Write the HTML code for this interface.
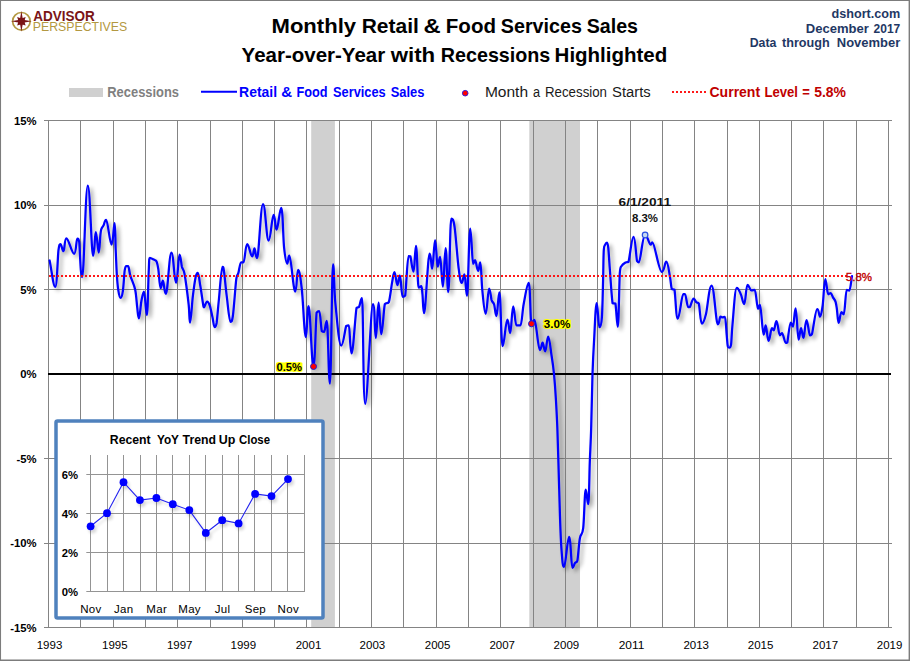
<!DOCTYPE html>
<html><head><meta charset="utf-8"><title>Monthly Retail &amp; Food Services Sales</title>
<style>
html,body{margin:0;padding:0;background:#fff;}
body{width:910px;height:661px;overflow:hidden;font-family:"Liberation Sans",sans-serif;}
svg{display:block;font-family:"Liberation Sans",sans-serif;}
</style></head><body>
<svg width="910" height="661" viewBox="0 0 910 661">
<defs>
<filter id="sh" x="-5%" y="-5%" width="110%" height="110%">
<feGaussianBlur in="SourceAlpha" stdDeviation="1.9" result="b"/>
<feOffset in="b" dx="2.6" dy="2.6" result="o"/>
<feComponentTransfer in="o" result="s"><feFuncA type="linear" slope="0.38"/></feComponentTransfer>
<feMerge><feMergeNode in="s"/><feMergeNode in="SourceGraphic"/></feMerge>
</filter>
<filter id="sh2" x="-5%" y="-10%" width="110%" height="130%">
<feGaussianBlur in="SourceAlpha" stdDeviation="1.5" result="b"/>
<feOffset in="b" dx="2" dy="2.5" result="o"/>
<feComponentTransfer in="o" result="s"><feFuncA type="linear" slope="0.16"/></feComponentTransfer>
<feMerge><feMergeNode in="s"/><feMergeNode in="SourceGraphic"/></feMerge>
</filter>
</defs>
<rect x="0" y="0" width="910" height="661" fill="#ffffff"/>

<rect x="311.2" y="120.5" width="23.7" height="507" fill="#d0d0d0"/>
<rect x="529.3" y="120.5" width="50.7" height="507" fill="#d0d0d0"/>
<path d="M48.5 120V628M80.5 120V628M113.5 120V628M145.5 120V628M177.5 120V628M210.5 120V628M242.5 120V628M274.5 120V628M306.5 120V628M339.5 120V628M371.5 120V628M403.5 120V628M436.5 120V628M468.5 120V628M500.5 120V628M533.5 120V628M565.5 120V628M597.5 120V628M630.5 120V628M662.5 120V628M694.5 120V628M727.5 120V628M759.5 120V628M791.5 120V628M823.5 120V628M856.5 120V628M888.5 120V628M44 120.5H892M44 205.5H892M44 289.5H892M44 458.5H892M44 543.5H892M44 627.5H892" stroke="#848484" stroke-width="1" fill="none"/>
<path d="M48 374H891" stroke="#000" stroke-width="2" fill="none"/>
<path d="M49.6 260.5C51.5 269.3 53.3 286.9 55.2 286.9C57.1 286.9 57.6 257.1 58.5 250.0C59.4 244.0 59.5 244.0 60.5 244.0C61.5 244.0 62.3 251.2 63.5 251.2C64.7 251.2 64.4 238.3 66.4 238.3C68.6 238.3 71.8 253.8 74.1 253.8C76.3 253.8 76.2 238.6 77.3 238.6C78.4 238.6 78.4 238.6 79.2 241.8C80.0 248.2 80.4 277.0 82.2 277.0C84.0 277.0 85.5 185.5 87.8 185.5C90.1 185.5 91.4 255.8 93.1 255.8C94.8 255.8 94.6 232.1 95.8 232.1C97.0 232.1 97.8 252.5 98.7 252.5C99.6 252.5 99.9 239.8 100.3 236.0C100.7 232.2 100.7 231.3 101.2 229.5C101.8 227.7 102.8 226.9 103.6 225.3C104.4 223.7 104.6 219.8 106.2 219.8C107.8 219.8 109.8 244.6 111.5 244.6C113.2 244.6 113.7 223.1 114.6 223.1C115.4 223.1 115.3 241.5 115.7 250.0C116.1 258.5 116.4 267.4 116.8 274.0C117.2 280.6 117.6 285.5 118.2 289.5C118.8 293.5 119.6 297.9 120.6 297.9C121.6 297.9 122.2 295.4 122.9 290.8C123.6 286.2 124.1 274.5 124.7 270.4C125.3 266.3 125.6 266.2 126.3 266.2C127.0 266.2 127.2 266.2 128.1 266.2C129.0 266.2 129.2 272.0 130.4 275.9C131.6 279.8 134.1 284.5 135.2 289.7C136.3 294.9 136.6 302.4 137.2 307.2C137.8 312.0 138.0 318.3 138.9 318.3C139.8 318.3 140.5 306.2 141.3 301.7C142.2 297.2 142.9 291.5 144.0 291.5C145.1 291.5 145.8 315.2 146.8 315.2C147.8 315.2 148.2 281.6 148.7 272.0C149.2 262.4 149.0 257.8 149.8 257.8C150.9 257.8 152.7 259.0 153.8 259.6C154.9 260.2 155.8 260.0 156.6 261.6C157.3 263.2 157.6 264.6 158.3 269.0C159.0 273.4 159.6 288.2 160.6 288.2C161.6 288.2 161.8 280.6 162.9 280.6C164.0 280.6 164.1 293.8 165.9 293.8C167.7 293.8 169.3 252.6 171.4 252.6C173.5 252.6 174.3 282.7 176.0 282.7C177.7 282.7 178.3 254.6 179.5 254.6C180.7 254.6 181.1 263.5 181.9 266.8C182.8 270.1 183.5 268.0 184.6 274.3C185.7 280.6 187.8 296.9 188.7 304.9C189.6 312.9 189.2 322.5 190.1 322.5C191.0 322.5 191.9 304.2 192.8 296.7C193.7 289.2 194.7 281.7 195.5 277.7C196.3 273.7 196.8 272.9 197.8 272.9C198.8 272.9 199.4 280.7 200.3 285.8C201.2 290.9 202.4 299.9 203.0 303.5C203.6 307.1 203.3 307.4 203.9 307.4C204.8 307.4 205.9 301.5 207.1 301.5C208.3 301.5 208.9 303.0 209.8 305.6C210.7 308.2 211.7 313.6 212.5 317.2C213.3 320.8 213.7 327.0 214.6 327.0C215.5 327.0 215.9 327.0 216.6 323.0C217.3 318.4 217.9 308.9 218.9 299.5C219.9 290.1 221.3 266.8 222.4 266.8C223.5 266.8 223.4 267.2 224.1 272.2C224.8 277.2 225.7 288.4 226.8 296.7C227.9 305.0 229.2 321.9 230.5 321.9C231.8 321.9 231.9 321.9 232.9 315.8C233.9 308.7 235.4 286.1 236.3 279.0C237.2 272.9 237.6 275.7 238.4 272.9C239.2 270.1 240.0 262.3 241.1 262.3C242.2 262.3 242.2 262.3 243.5 262.3C244.8 262.3 245.4 244.1 247.2 244.1C249.0 244.1 250.6 256.3 252.1 256.3C253.6 256.3 253.5 248.4 254.5 248.4C255.5 248.4 255.3 258.0 257.1 258.0C258.9 258.0 260.6 204.0 263.0 204.0C265.4 204.0 266.4 240.5 268.6 240.5C270.8 240.5 271.9 214.8 273.6 214.8C275.3 214.8 275.0 229.6 276.6 229.6C278.2 229.6 279.6 207.9 281.2 207.9C282.8 207.9 283.1 238.4 284.1 247.7C285.1 257.0 286.1 263.6 287.2 263.6C288.3 263.6 287.9 255.7 289.4 255.7C291.1 255.7 293.4 291.6 295.2 291.6C297.0 291.6 296.7 269.9 298.1 269.9C299.5 269.9 300.5 277.8 301.8 289.0C303.1 300.2 304.4 337.0 305.8 337.0C307.2 337.0 307.0 306.2 308.6 306.2C310.2 306.2 311.7 366.5 313.4 366.5C315.1 366.5 315.6 321.8 316.6 312.6C317.6 311.2 318.1 311.2 319.2 311.2C320.3 311.2 321.0 327.8 321.8 331.2C322.6 331.9 323.1 331.9 324.1 331.9C325.1 331.9 325.6 320.9 326.8 320.9C328.0 320.9 328.6 383.7 329.9 383.7C331.2 383.7 331.9 264.4 333.0 264.4C334.1 264.4 334.0 290.0 335.4 303.5C336.8 317.0 338.9 345.5 341.2 345.5C343.4 345.5 344.9 329.4 346.2 326.0C347.5 325.3 347.7 325.3 348.8 325.3C349.9 325.3 350.0 353.4 351.6 353.4C353.2 353.4 355.2 315.9 356.5 308.1C357.8 306.8 358.2 308.1 359.1 306.8C360.0 305.1 360.7 298.2 362.0 298.2C363.3 298.2 363.0 403.9 365.2 403.9C367.5 403.9 370.8 304.2 373.0 304.2C375.0 304.2 374.6 338.0 375.8 338.0C377.0 338.0 377.5 302.5 378.6 302.5C379.7 302.5 380.0 334.2 381.3 334.2C382.6 334.2 383.6 309.5 384.8 304.2C386.1 302.2 387.6 304.2 388.8 302.2C390.0 298.6 391.2 287.4 392.1 282.4C393.1 277.4 393.4 272.1 394.5 272.1C395.6 272.1 396.3 285.2 397.4 285.2C398.5 285.2 398.8 275.5 399.9 275.5C401.0 275.5 401.5 296.8 402.6 296.8C403.7 296.8 404.2 296.8 405.2 295.5C406.2 288.7 407.4 256.2 408.5 256.2C409.6 256.2 409.6 256.2 410.4 256.4C411.2 259.0 412.3 271.7 413.5 271.7C414.7 271.7 414.9 245.9 416.0 245.9C417.1 245.9 417.6 287.6 418.7 287.6C419.8 287.6 420.4 286.2 421.2 286.2C422.0 286.2 422.0 290.0 422.5 294.5C423.0 299.0 423.0 313.2 424.1 313.2C425.6 313.2 427.9 253.5 429.6 253.5C431.3 253.5 431.1 268.7 432.2 268.7C433.3 268.7 434.0 240.1 435.1 240.1C436.2 240.1 436.7 266.7 437.7 266.7C438.7 266.7 439.0 256.8 440.1 256.8C441.2 256.8 441.8 286.7 442.9 286.7C444.0 286.7 444.5 248.2 445.6 248.2C446.7 248.2 447.1 292.0 448.3 292.0C449.5 292.0 450.0 218.6 451.3 218.6C452.6 218.6 453.4 218.9 454.6 227.1C455.8 235.3 457.4 258.7 458.6 268.0C459.8 277.3 460.5 282.8 461.7 282.8C462.9 282.8 463.4 274.4 464.5 274.4C465.6 274.4 465.8 295.8 467.0 295.8C468.2 295.8 468.9 228.5 470.2 228.5C471.5 228.5 472.1 263.8 473.1 263.8C474.1 263.8 474.1 260.1 475.1 260.1C476.1 260.1 477.0 270.9 478.1 270.9C479.2 270.9 479.4 262.4 480.3 262.4C481.2 262.4 481.4 281.4 482.3 290.0C483.2 298.6 484.3 313.9 485.7 313.9C487.1 313.9 487.9 288.5 489.1 288.5C490.3 288.5 490.8 297.4 491.6 300.1C492.5 302.8 493.4 302.0 494.2 304.7C495.0 307.4 495.4 316.1 496.5 316.1C497.6 316.1 498.1 292.4 499.4 292.4C500.7 292.4 501.1 346.2 502.7 346.2C504.3 346.2 505.7 319.6 507.3 319.6C508.9 319.6 509.0 333.0 510.2 333.0C511.4 333.0 511.9 306.4 513.2 306.4C514.5 306.4 515.0 325.4 516.5 325.4C518.0 325.4 518.9 325.4 520.4 325.4C521.9 325.4 522.3 311.1 523.7 304.0C525.1 296.9 527.1 282.9 528.7 282.9C530.3 282.9 530.3 323.8 531.5 323.8C532.7 323.8 532.8 319.8 534.5 319.8C536.2 319.8 538.1 350.0 539.8 350.0C541.5 350.0 541.5 342.7 542.6 342.7C543.7 342.7 544.0 351.4 545.2 351.4C546.4 351.4 546.9 336.5 548.2 336.5C549.5 336.5 550.6 349.6 551.6 355.8C552.6 362.1 553.3 366.8 554.0 374.0C554.7 381.2 555.4 390.5 555.9 399.3C556.4 408.1 556.9 416.6 557.3 427.0C557.7 437.4 557.9 447.0 558.4 462.0C558.9 477.0 559.5 502.1 560.0 516.9C560.5 531.7 560.9 542.5 561.6 550.8C562.3 559.1 562.5 566.8 564.1 566.8C565.7 566.8 567.4 536.9 569.1 536.9C570.8 536.9 571.2 567.8 572.4 567.8C573.6 567.8 574.1 564.3 574.9 563.1C575.7 561.9 576.6 563.1 577.4 560.6C578.2 556.5 578.9 543.6 579.9 538.2C580.9 532.8 582.2 536.3 583.2 528.2C584.2 520.1 584.7 489.6 585.7 489.6C586.7 489.6 587.3 504.1 588.2 504.1C589.1 504.1 589.3 474.9 589.8 462.0C590.3 449.1 590.8 441.7 591.2 427.0C591.7 412.3 592.0 388.5 592.5 374.0C593.0 359.5 593.4 351.8 594.1 340.0C594.8 328.2 595.6 303.0 596.7 303.0C597.8 303.0 598.3 327.2 599.4 327.2C600.5 327.2 601.3 325.3 601.9 317.4C602.5 309.5 602.8 291.2 603.1 280.0C603.4 268.8 603.4 255.9 603.8 250.0C604.1 244.6 604.7 245.8 605.2 244.6C605.7 243.4 606.4 242.7 607.0 242.7C607.6 242.7 607.8 243.6 608.3 248.2C608.8 252.8 609.2 260.8 609.9 270.0C610.6 279.2 611.7 297.6 612.6 303.2C613.5 303.5 614.5 303.2 615.4 303.5C616.3 307.4 616.9 326.8 617.8 326.8C618.7 326.8 619.2 283.1 619.8 273.0C620.4 266.0 620.6 267.8 621.6 266.0C622.6 264.2 624.5 263.2 625.6 262.5C626.8 261.9 627.2 262.5 628.5 261.9C629.8 257.6 631.7 236.8 633.5 236.8C635.3 236.8 636.1 256.6 637.0 260.9C637.9 262.3 637.6 262.3 638.9 262.3C640.6 262.3 642.5 235.1 645.0 235.1C647.5 235.1 649.2 244.7 650.7 244.7C651.9 244.7 651.2 242.3 652.4 242.3C654.7 242.3 658.8 271.8 661.7 271.8C664.6 271.8 664.6 261.7 666.3 261.7C668.0 261.7 669.1 272.4 670.0 277.0C670.9 281.6 671.0 286.9 671.8 289.0C672.5 289.7 673.5 289.0 674.5 289.7C675.5 294.6 676.0 318.7 677.8 318.7C679.6 318.7 681.7 294.1 683.2 294.1C684.5 294.1 684.0 294.1 685.0 294.1C686.0 294.1 687.1 307.0 688.1 307.0C689.1 307.0 689.1 307.0 690.0 306.8C690.9 305.4 692.3 298.6 693.6 298.6C694.9 298.6 695.4 301.3 696.3 302.2C697.2 303.1 698.0 302.2 698.9 303.9C699.8 307.5 700.4 323.7 701.9 323.7C703.4 323.7 704.4 320.4 706.0 314.0C707.6 307.6 709.1 285.5 711.6 285.5C714.1 285.5 716.0 324.3 717.8 324.3C719.6 324.3 719.4 316.5 720.4 316.5C721.4 316.5 721.7 317.4 722.6 317.4C723.5 317.4 724.0 316.8 724.9 316.8C725.8 316.8 726.2 330.1 726.7 335.0C727.2 339.9 727.3 344.1 727.8 346.2C728.2 347.6 728.7 347.6 729.4 347.6C730.1 347.6 730.6 347.6 731.1 344.3C731.6 340.4 731.6 333.9 732.5 324.5C733.4 315.1 735.0 287.8 736.7 287.8C738.5 287.8 739.6 291.7 740.9 294.4C742.1 297.1 742.8 304.0 744.2 304.0C745.6 304.0 746.0 284.8 747.5 284.8C749.0 284.8 749.9 290.4 751.4 290.4C752.9 290.4 753.3 289.8 754.7 289.8C756.1 289.8 756.9 308.9 758.0 308.9C759.1 308.9 758.8 304.9 760.0 304.9C761.2 304.9 762.4 334.6 763.6 334.6C764.8 334.6 764.7 325.4 765.7 325.4C766.7 325.4 767.3 340.9 768.6 340.9C769.9 340.9 770.8 328.0 771.9 328.0C773.0 328.0 772.8 330.4 773.8 330.4C774.8 330.4 775.2 321.2 776.5 321.2C777.8 321.2 778.7 335.3 779.8 335.3C780.9 335.3 780.8 333.0 782.0 333.0C783.2 333.0 784.6 342.8 785.7 342.8C786.8 342.8 786.5 342.8 787.3 342.5C788.1 339.1 789.5 322.5 790.7 322.5C791.9 322.5 792.0 326.7 793.0 326.7C794.0 326.7 794.4 308.3 795.6 308.3C796.8 308.3 797.5 339.6 798.6 339.6C799.7 339.6 800.0 328.2 801.0 328.2C802.0 328.2 802.4 337.8 803.5 337.8C804.6 337.8 805.1 320.2 806.5 320.2C807.9 320.2 808.9 335.4 810.0 335.4C811.1 335.4 810.8 335.4 812.0 334.0C813.2 329.6 815.5 309.0 817.2 309.0C818.9 309.0 819.0 316.7 820.1 316.7C821.2 316.7 821.8 311.4 822.7 305.1C823.6 298.8 824.2 279.0 825.3 279.0C826.4 279.0 827.1 294.3 828.2 294.3C829.3 294.3 829.6 293.2 830.6 293.2C831.6 293.2 832.2 296.0 833.0 297.4C833.8 298.8 835.0 299.9 835.6 301.8C836.2 303.7 836.4 305.5 836.9 309.0C837.4 312.5 837.8 322.9 838.7 322.9C839.6 322.9 840.3 312.0 841.4 312.0C842.5 312.0 842.7 314.3 843.8 314.3C844.9 314.3 845.6 289.9 846.7 289.9C847.8 289.9 848.2 290.6 849.3 290.6C850.4 290.6 851.1 280.9 852.0 276.1" stroke="#0000ff" stroke-width="2.25" fill="none" stroke-linejoin="round" stroke-linecap="round" filter="url(#sh)"/>
<path d="M49.1 276H847" stroke="#ff0000" stroke-width="1.8" stroke-dasharray="1.8 2.2" fill="none"/>
<circle cx="313.5" cy="366.5" r="3" fill="#ff0000" stroke="#1f1fd8" stroke-width="1"/>
<circle cx="531.5" cy="323.8" r="3" fill="#ff0000" stroke="#1f1fd8" stroke-width="1"/>
<circle cx="645.1" cy="235" r="2.8" fill="#c6d9f1" stroke="#2a4fe0" stroke-width="1.2"/>
<text x="36.5" y="124.8" font-size="11.3" font-weight="bold" text-anchor="end" fill="#000">15%</text>
<text x="36.5" y="209.3" font-size="11.3" font-weight="bold" text-anchor="end" fill="#000">10%</text>
<text x="36.5" y="293.8" font-size="11.3" font-weight="bold" text-anchor="end" fill="#000">5%</text>
<text x="36.5" y="378.3" font-size="11.3" font-weight="bold" text-anchor="end" fill="#000">0%</text>
<text x="36.5" y="462.8" font-size="11.3" font-weight="bold" text-anchor="end" fill="#000">-5%</text>
<text x="36.5" y="547.3" font-size="11.3" font-weight="bold" text-anchor="end" fill="#000">-10%</text>
<text x="36.5" y="631.8" font-size="11.3" font-weight="bold" text-anchor="end" fill="#000">-15%</text>
<text x="49.5" y="649.2" font-size="11.5" text-anchor="middle" fill="#000" textLength="25.6" lengthAdjust="spacingAndGlyphs">1993</text>
<text x="114.8" y="649.2" font-size="11.5" text-anchor="middle" fill="#000" textLength="25.6" lengthAdjust="spacingAndGlyphs">1995</text>
<text x="179.7" y="649.2" font-size="11.5" text-anchor="middle" fill="#000" textLength="25.6" lengthAdjust="spacingAndGlyphs">1997</text>
<text x="243.3" y="649.2" font-size="11.5" text-anchor="middle" fill="#000" textLength="25.6" lengthAdjust="spacingAndGlyphs">1999</text>
<text x="308.5" y="649.2" font-size="11.5" text-anchor="middle" fill="#000" textLength="25.6" lengthAdjust="spacingAndGlyphs">2001</text>
<text x="372.4" y="649.2" font-size="11.5" text-anchor="middle" fill="#000" textLength="25.6" lengthAdjust="spacingAndGlyphs">2003</text>
<text x="437.6" y="649.2" font-size="11.5" text-anchor="middle" fill="#000" textLength="25.6" lengthAdjust="spacingAndGlyphs">2005</text>
<text x="502.2" y="649.2" font-size="11.5" text-anchor="middle" fill="#000" textLength="25.6" lengthAdjust="spacingAndGlyphs">2007</text>
<text x="566.4" y="649.2" font-size="11.5" text-anchor="middle" fill="#000" textLength="25.6" lengthAdjust="spacingAndGlyphs">2009</text>
<text x="631.5" y="649.2" font-size="11.5" text-anchor="middle" fill="#000" textLength="25.6" lengthAdjust="spacingAndGlyphs">2011</text>
<text x="696.2" y="649.2" font-size="11.5" text-anchor="middle" fill="#000" textLength="25.6" lengthAdjust="spacingAndGlyphs">2013</text>
<text x="760.6" y="649.2" font-size="11.5" text-anchor="middle" fill="#000" textLength="25.6" lengthAdjust="spacingAndGlyphs">2015</text>
<text x="825.3" y="649.2" font-size="11.5" text-anchor="middle" fill="#000" textLength="25.6" lengthAdjust="spacingAndGlyphs">2017</text>
<text x="889.6" y="649.2" font-size="11.5" text-anchor="middle" fill="#000" textLength="25.6" lengthAdjust="spacingAndGlyphs">2019</text>
<text x="271.5" y="32.8" font-size="20.5" font-weight="bold" fill="#000" textLength="84.6" lengthAdjust="spacingAndGlyphs">Monthly</text>
<text x="361.7" y="32.8" font-size="20.5" font-weight="bold" fill="#000" textLength="57.1" lengthAdjust="spacingAndGlyphs">Retail</text>
<text x="423.6" y="32.8" font-size="20.5" font-weight="bold" fill="#000" textLength="17.2" lengthAdjust="spacingAndGlyphs">&amp;</text>
<text x="445.8" y="32.8" font-size="20.5" font-weight="bold" fill="#000" textLength="50.2" lengthAdjust="spacingAndGlyphs">Food</text>
<text x="500.8" y="32.8" font-size="20.5" font-weight="bold" fill="#000" textLength="81.1" lengthAdjust="spacingAndGlyphs">Services</text>
<text x="586.7" y="32.8" font-size="20.5" font-weight="bold" fill="#000" textLength="51.3" lengthAdjust="spacingAndGlyphs">Sales</text>
<text x="241.6" y="61.6" font-size="20.5" font-weight="bold" fill="#000" textLength="143.6" lengthAdjust="spacingAndGlyphs">Year-over-Year</text>
<text x="390.7" y="61.6" font-size="20.5" font-weight="bold" fill="#000" textLength="44.5" lengthAdjust="spacingAndGlyphs">with</text>
<text x="440.8" y="61.6" font-size="20.5" font-weight="bold" fill="#000" textLength="109.5" lengthAdjust="spacingAndGlyphs">Recessions</text>
<text x="554.6" y="61.6" font-size="20.5" font-weight="bold" fill="#000" textLength="112.7" lengthAdjust="spacingAndGlyphs">Highlighted</text>
<text x="831.5" y="17.7" font-size="13" font-weight="bold" fill="#1f3864" textLength="68.8" lengthAdjust="spacingAndGlyphs">dshort.com</text>
<text x="805.8" y="32.6" font-size="13" font-weight="bold" fill="#1f3864" textLength="63.1" lengthAdjust="spacingAndGlyphs">December</text>
<text x="873.6" y="32.6" font-size="13" font-weight="bold" fill="#1f3864" textLength="26.7" lengthAdjust="spacingAndGlyphs">2017</text>
<text x="749.7" y="47.1" font-size="13" font-weight="bold" fill="#1f3864" textLength="26.7" lengthAdjust="spacingAndGlyphs">Data</text>
<text x="782.0" y="47.1" font-size="13" font-weight="bold" fill="#1f3864" textLength="47.7" lengthAdjust="spacingAndGlyphs">through</text>
<text x="836.8" y="47.1" font-size="13" font-weight="bold" fill="#1f3864" textLength="63.5" lengthAdjust="spacingAndGlyphs">November</text>
<rect x="69" y="88" width="34" height="9" fill="#d0d0d0"/>
<text x="107.3" y="96.7" font-size="14" font-weight="bold" fill="#808080" textLength="71.7" lengthAdjust="spacingAndGlyphs">Recessions</text>
<path d="M201 91.8H237" stroke="#0000ff" stroke-width="2" fill="none"/>
<text x="239.1" y="96.7" font-size="14" font-weight="bold" fill="#0000ff" textLength="38.0" lengthAdjust="spacingAndGlyphs">Retail</text>
<text x="281.3" y="96.7" font-size="14" font-weight="bold" fill="#0000ff" textLength="10.9" lengthAdjust="spacingAndGlyphs">&amp;</text>
<text x="296.5" y="96.7" font-size="14" font-weight="bold" fill="#0000ff" textLength="31.1" lengthAdjust="spacingAndGlyphs">Food</text>
<text x="333.1" y="96.7" font-size="14" font-weight="bold" fill="#0000ff" textLength="52.6" lengthAdjust="spacingAndGlyphs">Services</text>
<text x="390.7" y="96.7" font-size="14" font-weight="bold" fill="#0000ff" textLength="33.7" lengthAdjust="spacingAndGlyphs">Sales</text>
<circle cx="465.2" cy="93.2" r="2.8" fill="#ff0000" stroke="#3a1fd8" stroke-width="1"/>
<text x="484.9" y="96.7" font-size="14" fill="#1a1a1a" textLength="43.2" lengthAdjust="spacingAndGlyphs">Month</text>
<text x="532.9" y="96.7" font-size="14" fill="#1a1a1a" textLength="7.1" lengthAdjust="spacingAndGlyphs">a</text>
<text x="545.0" y="96.7" font-size="14" fill="#1a1a1a" textLength="62.0" lengthAdjust="spacingAndGlyphs">Recession</text>
<text x="612.0" y="96.7" font-size="14" fill="#1a1a1a" textLength="38.7" lengthAdjust="spacingAndGlyphs">Starts</text>
<path d="M672.1 92H706" stroke="#ff0000" stroke-width="1.8" stroke-dasharray="1.8 2.2" fill="none"/>
<text x="709.5" y="96.7" font-size="14" font-weight="bold" fill="#c00000" textLength="50.6" lengthAdjust="spacingAndGlyphs">Current</text>
<text x="764.4" y="96.7" font-size="14" font-weight="bold" fill="#c00000" textLength="33.6" lengthAdjust="spacingAndGlyphs">Level</text>
<text x="802.3" y="96.7" font-size="14" font-weight="bold" fill="#c00000" textLength="7.6" lengthAdjust="spacingAndGlyphs">=</text>
<text x="814.2" y="96.7" font-size="14" font-weight="bold" fill="#c00000" textLength="31.8" lengthAdjust="spacingAndGlyphs">5.8%</text>
<rect x="276" y="362.4" width="26.4" height="9.1" rx="1" fill="#ffff00"/>
<rect x="543.6" y="319.5" width="27.2" height="9.1" rx="1" fill="#ffff00"/>
<text x="289.2" y="371.0" font-size="11.3" font-weight="bold" text-anchor="middle" fill="#000" stroke="#ffff00" stroke-width="1.8" stroke-linejoin="round" paint-order="stroke" textLength="25.5" lengthAdjust="spacingAndGlyphs">0.5%</text>
<text x="557" y="327.9" font-size="11.3" font-weight="bold" text-anchor="middle" fill="#000" stroke="#ffff00" stroke-width="1.8" stroke-linejoin="round" paint-order="stroke" textLength="26.5" lengthAdjust="spacingAndGlyphs">3.0%</text>
<text x="644.8" y="206.2" font-size="11.3" font-weight="bold" text-anchor="middle" fill="#111" textLength="52.5" lengthAdjust="spacingAndGlyphs">6/1/2011</text>
<text x="645" y="222.3" font-size="11.3" font-weight="bold" text-anchor="middle" fill="#111" textLength="26" lengthAdjust="spacingAndGlyphs">8.3%</text>
<text x="845.8" y="281.4" font-size="11.5" fill="#c00000" stroke="#c00000" stroke-width="0.35" textLength="26.2" lengthAdjust="spacingAndGlyphs">5.8%</text>
<rect x="56" y="421" width="267" height="197" rx="1.5" fill="#fff" stroke="#4f81bd" stroke-width="3.5"/>
<path d="M90.5 455V592M107.5 455V592M123.5 455V592M140.5 455V592M156.5 455V592M172.5 455V592M189.5 455V592M205.5 455V592M222.5 455V592M238.5 455V592M254.5 455V592M271.5 455V592M287.5 455V592M304.5 455V592M86.3 591.5H305M86.3 552.5H305M86.3 513.5H305M86.3 474.5H305" stroke="#949494" stroke-width="1" fill="none"/>
<g filter="url(#sh2)"><path d="M90.6 526.3 L107.0 513.2 L123.5 482.2 L139.9 500.1 L156.4 498.0 L172.8 504.2 L189.3 510.1 L205.8 532.9 L222.2 520.2 L238.6 523.4 L255.1 493.9 L271.5 496.1 L288.0 479.1" stroke="#2222ee" stroke-width="1.1" fill="none"/>
<circle cx="90.6" cy="526.3" r="3.9" fill="#0000ff"/>
<circle cx="107.0" cy="513.2" r="3.9" fill="#0000ff"/>
<circle cx="123.5" cy="482.2" r="3.9" fill="#0000ff"/>
<circle cx="139.9" cy="500.1" r="3.9" fill="#0000ff"/>
<circle cx="156.4" cy="498.0" r="3.9" fill="#0000ff"/>
<circle cx="172.8" cy="504.2" r="3.9" fill="#0000ff"/>
<circle cx="189.3" cy="510.1" r="3.9" fill="#0000ff"/>
<circle cx="205.8" cy="532.9" r="3.9" fill="#0000ff"/>
<circle cx="222.2" cy="520.2" r="3.9" fill="#0000ff"/>
<circle cx="238.6" cy="523.4" r="3.9" fill="#0000ff"/>
<circle cx="255.1" cy="493.9" r="3.9" fill="#0000ff"/>
<circle cx="271.5" cy="496.1" r="3.9" fill="#0000ff"/>
<circle cx="288.0" cy="479.1" r="3.9" fill="#0000ff"/>
</g>
<text x="78" y="596.1" font-size="11.3" font-weight="bold" text-anchor="end" fill="#000">0%</text>
<text x="78" y="557.1" font-size="11.3" font-weight="bold" text-anchor="end" fill="#000">2%</text>
<text x="78" y="518.1" font-size="11.3" font-weight="bold" text-anchor="end" fill="#000">4%</text>
<text x="78" y="479.1" font-size="11.3" font-weight="bold" text-anchor="end" fill="#000">6%</text>
<text x="90.9" y="612.9" font-size="11.5" text-anchor="middle" fill="#000" letter-spacing="0.3">Nov</text>
<text x="123.8" y="612.9" font-size="11.5" text-anchor="middle" fill="#000" letter-spacing="0.3">Jan</text>
<text x="156.7" y="612.9" font-size="11.5" text-anchor="middle" fill="#000" letter-spacing="0.3">Mar</text>
<text x="189.6" y="612.9" font-size="11.5" text-anchor="middle" fill="#000" letter-spacing="0.3">May</text>
<text x="222.5" y="612.9" font-size="11.5" text-anchor="middle" fill="#000" letter-spacing="0.3">Jul</text>
<text x="255.4" y="612.9" font-size="11.5" text-anchor="middle" fill="#000" letter-spacing="0.3">Sep</text>
<text x="288.3" y="612.9" font-size="11.5" text-anchor="middle" fill="#000" letter-spacing="0.3">Nov</text>
<text x="109.8" y="444.0" font-size="12.5" font-weight="bold" fill="#000" textLength="40.9" lengthAdjust="spacingAndGlyphs">Recent</text>
<text x="156.9" y="444.0" font-size="12.5" font-weight="bold" fill="#000" textLength="22.1" lengthAdjust="spacingAndGlyphs">YoY</text>
<text x="182.6" y="444.0" font-size="12.5" font-weight="bold" fill="#000" textLength="33.4" lengthAdjust="spacingAndGlyphs">Trend</text>
<text x="218.8" y="444.0" font-size="12.5" font-weight="bold" fill="#000" textLength="16.6" lengthAdjust="spacingAndGlyphs">Up</text>
<text x="239.0" y="444.0" font-size="12.5" font-weight="bold" fill="#000" textLength="31.0" lengthAdjust="spacingAndGlyphs">Close</text>
<g>
<circle cx="21.4" cy="21.3" r="8.8" fill="none" stroke="#b39841" stroke-width="1.7"/>
<path d="M21.40 10.90L22.96 19.74L31.80 21.30L22.96 22.86L21.40 31.70L19.84 22.86L11.00 21.30L19.84 19.74Z" fill="#7a1416"/>
<path d="M25.64 17.06L24.30 21.30L25.64 25.54L21.40 24.20L17.16 25.54L18.50 21.30L17.16 17.06L21.40 18.40Z" fill="#7a1416"/>
<circle cx="21.4" cy="21.3" r="3.1" fill="#7a1416"/>
<text x="33.2" y="20.5" font-size="13.8" font-weight="bold" fill="#7a1416" textLength="61.6" lengthAdjust="spacingAndGlyphs">ADVISOR</text>
<text x="32.8" y="31.4" font-size="12" fill="#b39841" textLength="94.4" lengthAdjust="spacingAndGlyphs">PERSPECTIVES</text>
</g>
<path d="M0.5 661V0.5H910" stroke="#7c7c7c" stroke-width="1.1" fill="none"/>
<path d="M909.3 0V660.3H0" stroke="#7c7c7c" stroke-width="1.4" fill="none"/>
</svg></body></html>
